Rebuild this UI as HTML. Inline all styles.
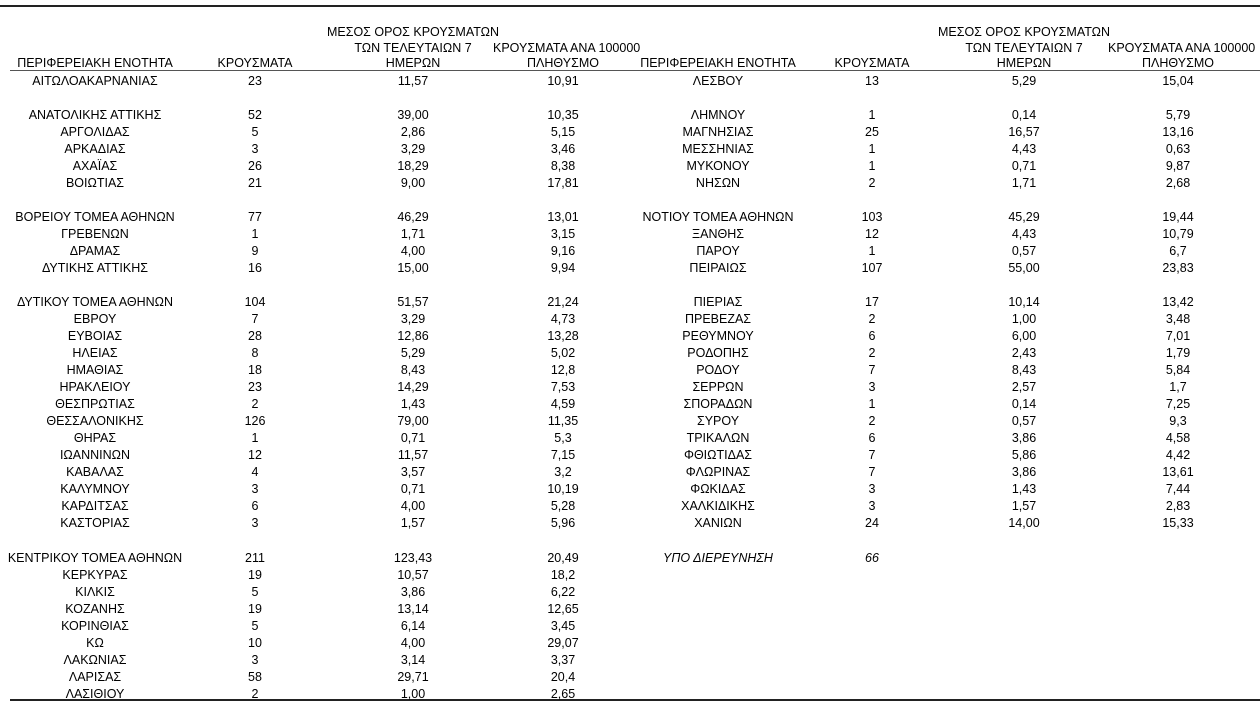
<!DOCTYPE html>
<html><head><meta charset="utf-8"><style>
body{margin:0;width:1260px;height:704px;background:#fff;position:relative;overflow:hidden;font-family:"Liberation Sans","DejaVu Sans",sans-serif;font-size:12.5px;color:#000}
.r{position:absolute;left:0;width:1260px;height:16px;line-height:16px;margin-top:2px}
.r span,.h span{position:absolute;text-align:center;white-space:nowrap}
.n{left:0;width:190px}.c{left:205px;width:100px}.a{left:343px;width:140px}.p{left:493px;width:140px}
.N{left:628px;width:180px}.C{left:822px;width:100px}.A{left:954px;width:140px}.P{left:1108px;width:140px}
.h{position:absolute;left:0;width:1260px;height:16px;line-height:16px;margin-top:1px}
.ln{position:absolute;background:#222}
i{font-style:italic}
</style></head><body>
<div class="ln" style="left:0;top:5px;width:1260px;height:2px"></div>
<div class="ln" style="left:10px;top:70px;width:1250px;height:1px;background:#555"></div>
<div class="ln" style="left:10px;top:699px;width:1250px;height:2px"></div>

<div class="h" style="top:23px"><span class="a" style="left:323px;width:180px">ΜΕΣΟΣ ΟΡΟΣ ΚΡΟΥΣΜΑΤΩΝ</span><span class="A" style="left:934px;width:180px">ΜΕΣΟΣ ΟΡΟΣ ΚΡΟΥΣΜΑΤΩΝ</span></div>
<div class="h" style="top:39px"><span class="a">ΤΩΝ ΤΕΛΕΥΤΑΙΩΝ 7</span><span class="p">ΚΡΟΥΣΜΑΤΑ ΑΝΑ 100000</span><span class="A">ΤΩΝ ΤΕΛΕΥΤΑΙΩΝ 7</span><span class="P">ΚΡΟΥΣΜΑΤΑ ΑΝΑ 100000</span></div>
<div class="h" style="top:54px"><span class="n">ΠΕΡΙΦΕΡΕΙΑΚΗ ΕΝΟΤΗΤΑ</span><span class="c">ΚΡΟΥΣΜΑΤΑ</span><span class="a">ΗΜΕΡΩΝ</span><span class="p">ΠΛΗΘΥΣΜΟ</span><span class="N">ΠΕΡΙΦΕΡΕΙΑΚΗ ΕΝΟΤΗΤΑ</span><span class="C">ΚΡΟΥΣΜΑΤΑ</span><span class="A">ΗΜΕΡΩΝ</span><span class="P">ΠΛΗΘΥΣΜΟ</span></div>

<div class="r" style="top:71px"><span class="n">ΑΙΤΩΛΟΑΚΑΡΝΑΝΙΑΣ</span><span class="c">23</span><span class="a">11,57</span><span class="p">10,91</span><span class="N">ΛΕΣΒΟΥ</span><span class="C">13</span><span class="A">5,29</span><span class="P">15,04</span></div>
<div class="r" style="top:105px"><span class="n">ΑΝΑΤΟΛΙΚΗΣ ΑΤΤΙΚΗΣ</span><span class="c">52</span><span class="a">39,00</span><span class="p">10,35</span><span class="N">ΛΗΜΝΟΥ</span><span class="C">1</span><span class="A">0,14</span><span class="P">5,79</span></div>
<div class="r" style="top:122px"><span class="n">ΑΡΓΟΛΙΔΑΣ</span><span class="c">5</span><span class="a">2,86</span><span class="p">5,15</span><span class="N">ΜΑΓΝΗΣΙΑΣ</span><span class="C">25</span><span class="A">16,57</span><span class="P">13,16</span></div>
<div class="r" style="top:139px"><span class="n">ΑΡΚΑΔΙΑΣ</span><span class="c">3</span><span class="a">3,29</span><span class="p">3,46</span><span class="N">ΜΕΣΣΗΝΙΑΣ</span><span class="C">1</span><span class="A">4,43</span><span class="P">0,63</span></div>
<div class="r" style="top:156px"><span class="n">ΑΧΑΪΑΣ</span><span class="c">26</span><span class="a">18,29</span><span class="p">8,38</span><span class="N">ΜΥΚΟΝΟΥ</span><span class="C">1</span><span class="A">0,71</span><span class="P">9,87</span></div>
<div class="r" style="top:173px"><span class="n">ΒΟΙΩΤΙΑΣ</span><span class="c">21</span><span class="a">9,00</span><span class="p">17,81</span><span class="N">ΝΗΣΩΝ</span><span class="C">2</span><span class="A">1,71</span><span class="P">2,68</span></div>
<div class="r" style="top:207px"><span class="n">ΒΟΡΕΙΟΥ ΤΟΜΕΑ ΑΘΗΝΩΝ</span><span class="c">77</span><span class="a">46,29</span><span class="p">13,01</span><span class="N">ΝΟΤΙΟΥ ΤΟΜΕΑ ΑΘΗΝΩΝ</span><span class="C">103</span><span class="A">45,29</span><span class="P">19,44</span></div>
<div class="r" style="top:224px"><span class="n">ΓΡΕΒΕΝΩΝ</span><span class="c">1</span><span class="a">1,71</span><span class="p">3,15</span><span class="N">ΞΑΝΘΗΣ</span><span class="C">12</span><span class="A">4,43</span><span class="P">10,79</span></div>
<div class="r" style="top:241px"><span class="n">ΔΡΑΜΑΣ</span><span class="c">9</span><span class="a">4,00</span><span class="p">9,16</span><span class="N">ΠΑΡΟΥ</span><span class="C">1</span><span class="A">0,57</span><span class="P">6,7</span></div>
<div class="r" style="top:258px"><span class="n">ΔΥΤΙΚΗΣ ΑΤΤΙΚΗΣ</span><span class="c">16</span><span class="a">15,00</span><span class="p">9,94</span><span class="N">ΠΕΙΡΑΙΩΣ</span><span class="C">107</span><span class="A">55,00</span><span class="P">23,83</span></div>
<div class="r" style="top:292px"><span class="n">ΔΥΤΙΚΟΥ ΤΟΜΕΑ ΑΘΗΝΩΝ</span><span class="c">104</span><span class="a">51,57</span><span class="p">21,24</span><span class="N">ΠΙΕΡΙΑΣ</span><span class="C">17</span><span class="A">10,14</span><span class="P">13,42</span></div>
<div class="r" style="top:309px"><span class="n">ΕΒΡΟΥ</span><span class="c">7</span><span class="a">3,29</span><span class="p">4,73</span><span class="N">ΠΡΕΒΕΖΑΣ</span><span class="C">2</span><span class="A">1,00</span><span class="P">3,48</span></div>
<div class="r" style="top:326px"><span class="n">ΕΥΒΟΙΑΣ</span><span class="c">28</span><span class="a">12,86</span><span class="p">13,28</span><span class="N">ΡΕΘΥΜΝΟΥ</span><span class="C">6</span><span class="A">6,00</span><span class="P">7,01</span></div>
<div class="r" style="top:343px"><span class="n">ΗΛΕΙΑΣ</span><span class="c">8</span><span class="a">5,29</span><span class="p">5,02</span><span class="N">ΡΟΔΟΠΗΣ</span><span class="C">2</span><span class="A">2,43</span><span class="P">1,79</span></div>
<div class="r" style="top:360px"><span class="n">ΗΜΑΘΙΑΣ</span><span class="c">18</span><span class="a">8,43</span><span class="p">12,8</span><span class="N">ΡΟΔΟΥ</span><span class="C">7</span><span class="A">8,43</span><span class="P">5,84</span></div>
<div class="r" style="top:377px"><span class="n">ΗΡΑΚΛΕΙΟΥ</span><span class="c">23</span><span class="a">14,29</span><span class="p">7,53</span><span class="N">ΣΕΡΡΩΝ</span><span class="C">3</span><span class="A">2,57</span><span class="P">1,7</span></div>
<div class="r" style="top:394px"><span class="n">ΘΕΣΠΡΩΤΙΑΣ</span><span class="c">2</span><span class="a">1,43</span><span class="p">4,59</span><span class="N">ΣΠΟΡΑΔΩΝ</span><span class="C">1</span><span class="A">0,14</span><span class="P">7,25</span></div>
<div class="r" style="top:411px"><span class="n">ΘΕΣΣΑΛΟΝΙΚΗΣ</span><span class="c">126</span><span class="a">79,00</span><span class="p">11,35</span><span class="N">ΣΥΡΟΥ</span><span class="C">2</span><span class="A">0,57</span><span class="P">9,3</span></div>
<div class="r" style="top:428px"><span class="n">ΘΗΡΑΣ</span><span class="c">1</span><span class="a">0,71</span><span class="p">5,3</span><span class="N">ΤΡΙΚΑΛΩΝ</span><span class="C">6</span><span class="A">3,86</span><span class="P">4,58</span></div>
<div class="r" style="top:445px"><span class="n">ΙΩΑΝΝΙΝΩΝ</span><span class="c">12</span><span class="a">11,57</span><span class="p">7,15</span><span class="N">ΦΘΙΩΤΙΔΑΣ</span><span class="C">7</span><span class="A">5,86</span><span class="P">4,42</span></div>
<div class="r" style="top:462px"><span class="n">ΚΑΒΑΛΑΣ</span><span class="c">4</span><span class="a">3,57</span><span class="p">3,2</span><span class="N">ΦΛΩΡΙΝΑΣ</span><span class="C">7</span><span class="A">3,86</span><span class="P">13,61</span></div>
<div class="r" style="top:479px"><span class="n">ΚΑΛΥΜΝΟΥ</span><span class="c">3</span><span class="a">0,71</span><span class="p">10,19</span><span class="N">ΦΩΚΙΔΑΣ</span><span class="C">3</span><span class="A">1,43</span><span class="P">7,44</span></div>
<div class="r" style="top:496px"><span class="n">ΚΑΡΔΙΤΣΑΣ</span><span class="c">6</span><span class="a">4,00</span><span class="p">5,28</span><span class="N">ΧΑΛΚΙΔΙΚΗΣ</span><span class="C">3</span><span class="A">1,57</span><span class="P">2,83</span></div>
<div class="r" style="top:513px"><span class="n">ΚΑΣΤΟΡΙΑΣ</span><span class="c">3</span><span class="a">1,57</span><span class="p">5,96</span><span class="N">ΧΑΝΙΩΝ</span><span class="C">24</span><span class="A">14,00</span><span class="P">15,33</span></div>
<div class="r" style="top:548px"><span class="n">ΚΕΝΤΡΙΚΟΥ ΤΟΜΕΑ ΑΘΗΝΩΝ</span><span class="c">211</span><span class="a">123,43</span><span class="p">20,49</span><span class="N"><i>ΥΠΟ ΔΙΕΡΕΥΝΗΣΗ</i></span><span class="C"><i>66</i></span></div>
<div class="r" style="top:565px"><span class="n">ΚΕΡΚΥΡΑΣ</span><span class="c">19</span><span class="a">10,57</span><span class="p">18,2</span></div>
<div class="r" style="top:582px"><span class="n">ΚΙΛΚΙΣ</span><span class="c">5</span><span class="a">3,86</span><span class="p">6,22</span></div>
<div class="r" style="top:599px"><span class="n">ΚΟΖΑΝΗΣ</span><span class="c">19</span><span class="a">13,14</span><span class="p">12,65</span></div>
<div class="r" style="top:616px"><span class="n">ΚΟΡΙΝΘΙΑΣ</span><span class="c">5</span><span class="a">6,14</span><span class="p">3,45</span></div>
<div class="r" style="top:633px"><span class="n">ΚΩ</span><span class="c">10</span><span class="a">4,00</span><span class="p">29,07</span></div>
<div class="r" style="top:650px"><span class="n">ΛΑΚΩΝΙΑΣ</span><span class="c">3</span><span class="a">3,14</span><span class="p">3,37</span></div>
<div class="r" style="top:667px"><span class="n">ΛΑΡΙΣΑΣ</span><span class="c">58</span><span class="a">29,71</span><span class="p">20,4</span></div>
<div class="r" style="top:684px"><span class="n">ΛΑΣΙΘΙΟΥ</span><span class="c">2</span><span class="a">1,00</span><span class="p">2,65</span></div>
</body></html>
